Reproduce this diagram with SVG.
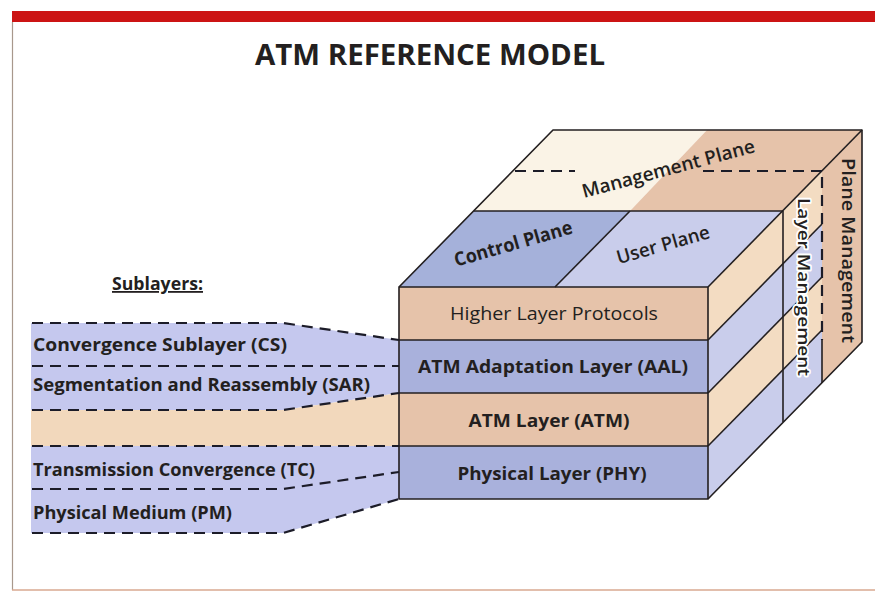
<svg xmlns="http://www.w3.org/2000/svg" width="875" height="592" viewBox="0 0 875 592">
<style>
  text { font-family: "Open Sans", "Liberation Sans", sans-serif; fill: #231f20; }
  .b { font-weight: 700; }
  .r { font-weight: 400; }
  .sub { font-size: 17px; font-weight: 700; }
  .lay { font-size: 18px; }
  .edge { stroke: #231f20; stroke-width: 1.6; fill: none; stroke-linejoin: round; }
  .dash { stroke: #1c1c28; stroke-width: 2.2; fill: none; stroke-dasharray: 11 7; }
  .tanF { fill: #e6c3aa; }
  .blueF { fill: #a9b1dc; }
  .tanL { fill: #f3dcc2; }
  .blueL { fill: #c9cdeb; }
  .bandB { fill: #c5c8ee; }
  .bandT { fill: #f2d8bc; }
  .halo { paint-order: stroke; stroke: #ffffff; stroke-width: 3.5; stroke-linejoin: round; }
</style>

<!-- frame -->
<g id="frame">
  <rect x="12" y="11" width="863" height="11" fill="#cc1414"/>
  <line x1="12.5" y1="22" x2="12.5" y2="590" stroke="#a8988c" stroke-width="1.2"/>
  <line x1="12" y1="590" x2="875" y2="590" stroke="#d8a890" stroke-width="1.5"/>
</g>

<g id="title">
  <text x="430" y="65" class="b" font-size="28" text-anchor="middle" textLength="350" lengthAdjust="spacingAndGlyphs">ATM  REFERENCE  MODEL</text>
</g>

<!-- left sublayer bands -->
<g id="sublayers-label">
  <text x="112" y="290" class="b" font-size="18" textLength="91" lengthAdjust="spacingAndGlyphs" text-decoration="underline">Sublayers:</text>
</g>

<g id="band-cs-sar">
  <polygon class="bandB" points="31,323 283,323 399,340 399,393 283,410 31,410"/>
</g>
<g id="band-atm">
  <polygon class="bandT" points="31,410 283,410 399,393 399,446 31,446"/>
</g>
<g id="band-tc-pm">
  <polygon class="bandB" points="31,446 399,446 399,499 283,533 31,533"/>
</g>

<g id="sublayer-cs">
  <text x="33" y="351" class="sub" textLength="254" lengthAdjust="spacingAndGlyphs">Convergence Sublayer (CS)</text>
</g>
<g id="sublayer-sar">
  <text x="33" y="391" class="sub" textLength="337" lengthAdjust="spacingAndGlyphs">Segmentation and Reassembly (SAR)</text>
</g>
<g id="sublayer-tc">
  <text x="33" y="476" class="sub" textLength="282" lengthAdjust="spacingAndGlyphs">Transmission Convergence (TC)</text>
</g>
<g id="sublayer-pm">
  <text x="33" y="519" class="sub" textLength="199" lengthAdjust="spacingAndGlyphs">Physical Medium (PM)</text>
</g>

<!-- cube: top face -->
<g id="control-plane">
  <polygon fill="#a5b1da" points="399,287 555,287 630,211 474,211"/>
  <text transform="translate(515,250) rotate(-16)" class="b" font-size="19" text-anchor="middle" textLength="122" lengthAdjust="spacingAndGlyphs" font-weight="600">Control Plane</text>
</g>
<g id="user-plane">
  <polygon fill="#c9cdeb" points="555,287 708,287 783,211 630,211"/>
  <text transform="translate(665,251) rotate(-16)" font-size="19" text-anchor="middle" textLength="96" lengthAdjust="spacingAndGlyphs" font-weight="600">User Plane</text>
</g>
<g id="management-plane">
  <polygon fill="#faf3e6" points="474,211 630,211 707,130 553,130"/>
  <polygon fill="#e6c3aa" points="630,211 783,211 862,130 707,130"/>
</g>

<!-- front layers -->
<g id="higher-layer-protocols">
  <rect class="tanF" x="399" y="287" width="309" height="53"/>
  <polygon class="tanL" points="708,287 822,171 822,224 708,340"/>
  <text x="554" y="320" class="r lay" text-anchor="middle" textLength="208" lengthAdjust="spacingAndGlyphs">Higher Layer Protocols</text>
</g>
<g id="aal">
  <rect class="blueF" x="399" y="340" width="309" height="53"/>
  <polygon class="blueL" points="708,340 822,224 822,277 708,393"/>
  <text x="553" y="373" class="b lay" text-anchor="middle" textLength="270" lengthAdjust="spacingAndGlyphs">ATM Adaptation Layer (AAL)</text>
</g>
<g id="atm-layer">
  <rect class="tanF" x="399" y="393" width="309" height="53"/>
  <polygon class="tanL" points="708,393 822,277 822,330 708,446"/>
  <text x="549" y="427" class="b lay" text-anchor="middle" textLength="161" lengthAdjust="spacingAndGlyphs">ATM Layer (ATM)</text>
</g>
<g id="physical-layer">
  <rect class="blueF" x="399" y="446" width="309" height="53"/>
  <polygon class="blueL" points="708,446 822,330 822,383 708,499"/>
  <text x="552" y="480" class="b lay" text-anchor="middle" textLength="189" lengthAdjust="spacingAndGlyphs">Physical Layer (PHY)</text>
</g>

<g id="plane-management">
  <polygon fill="#e6c3aa" points="822,171 862,130 862,342 822,383"/>
</g>

<!-- cube edges -->
<g id="cube-edges">
  <polygon class="edge" points="399,287 708,287 708,499 399,499"/>
  <line class="edge" x1="399" y1="340" x2="708" y2="340"/>
  <line class="edge" x1="399" y1="393" x2="708" y2="393"/>
  <line class="edge" x1="399" y1="446" x2="708" y2="446"/>
  <polyline class="edge" points="399,287 553,130 862,130 862,342 708,499"/>
  <line class="edge" x1="708" y1="287" x2="862" y2="130"/>
  <line class="edge" x1="474" y1="211" x2="783" y2="211"/>
  <line class="edge" x1="555" y1="287" x2="630" y2="211"/>
  <line class="edge" x1="783" y1="211" x2="783" y2="422"/>
  <line class="edge" x1="708" y1="340" x2="822" y2="224"/>
  <line class="edge" x1="708" y1="393" x2="822" y2="277"/>
  <line class="edge" x1="708" y1="446" x2="822" y2="330"/>
  <line class="edge" x1="822" y1="340" x2="822" y2="383"/>
  <line class="dash" x1="822" y1="177" x2="822" y2="340" stroke-width="1.8"/>
  <line class="dash" x1="515" y1="171" x2="575" y2="171" stroke-width="1.8"/>
  <line class="dash" x1="703" y1="171" x2="822" y2="171" stroke-width="1.8"/>
</g>

<!-- labels on top of edges -->
<g id="management-plane-label">
  <text transform="translate(670,175) rotate(-15)" font-size="19" text-anchor="middle" textLength="178" lengthAdjust="spacingAndGlyphs" font-weight="600">Management Plane</text>
</g>
<g id="layer-management">
  <text transform="translate(798,198) rotate(90)" class="halo" font-size="17" font-weight="600" textLength="178" lengthAdjust="spacingAndGlyphs">Layer Management</text>
</g>
<g id="plane-management-label">
  <text transform="translate(842,158) rotate(90)" font-size="18" font-weight="600" textLength="185" lengthAdjust="spacingAndGlyphs">Plane Management</text>
</g>

<!-- connectors (dashed sublayer boundaries) -->
<g id="connectors">
  <polyline class="dash" points="32,323 283,323 399,340"/>
  <polyline class="dash" points="32,366 399,366"/>
  <polyline class="dash" points="32,410 283,410 399,393"/>
  <polyline class="dash" points="32,446 399,446"/>
  <polyline class="dash" points="32,489 283,489 399,472"/>
  <polyline class="dash" points="32,533 283,533 399,499"/>
</g>
</svg>
